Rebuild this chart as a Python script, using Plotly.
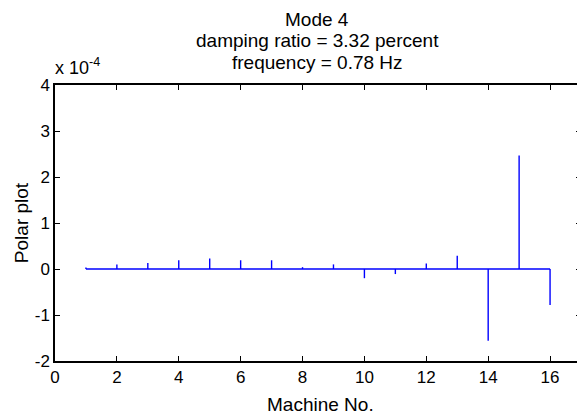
import plotly.graph_objects as go

# Data
machines = list(range(1, 17))
polar_values = [0.03e-4, 0.10e-4, 0.13e-4, 0.19e-4, 0.23e-4, 0.19e-4, 0.19e-4, 0.04e-4,
                0.10e-4, -0.20e-4, -0.11e-4, 0.12e-4, 0.29e-4, -1.56e-4, 2.47e-4, -0.78e-4]
ytick_vals = [-2e-4, -1e-4, 0, 1e-4, 2e-4, 3e-4, 4e-4]
ytick_text = ["-2", "-1", "0", "1", "2", "3", "4"]
xtick_vals = [0, 2, 4, 6, 8, 10, 12, 14, 16]
title_lines = ["Mode 4", "damping ratio = 3.32 percent", "frequency = 0.78 Hz"]

# page offset caused by default body margin
OFF = 8
PAGE_W, PAGE_H = 585, 416
W, H = PAGE_W - OFF, PAGE_H - OFF
# plot area in page pixels
X0, X1, Y0, Y1 = 55, 583, 85, 361
L, R, T, B = X0 - OFF, PAGE_W - X1, Y0 - OFF, PAGE_H - Y1
pw, ph = X1 - X0, Y1 - Y0

def px(x):
    return (x - X0) / pw

def py(y):
    return (Y1 - y) / ph

BLUE = "rgb(0,0,255)"
FONT = "Liberation Sans, Arial, sans-serif"

# stems
sx, sy = [], []
for m, v in zip(machines, polar_values):
    sx += [m, m, None]
    sy += [0, v, None]

fig = go.Figure()
fig.add_trace(go.Scatter(x=[machines[0], machines[-1]], y=[0, 0], mode="lines",
                         line=dict(color=BLUE, width=1.4), hoverinfo="skip", showlegend=False))
fig.add_trace(go.Scatter(x=sx, y=sy, mode="lines",
                         line=dict(color=BLUE, width=1.4), showlegend=False))

axis_common = dict(showgrid=False, zeroline=False, showline=True, linecolor="black",
                   linewidth=1.5, mirror="ticks", ticks="inside", ticklen=5,
                   tickcolor="black", tickwidth=1,
                   tickfont=dict(family=FONT, size=17, color="black"))

fig.update_xaxes(range=[0, 17], tickvals=xtick_vals, **axis_common)
fig.update_yaxes(range=[-2e-4, 4e-4], tickvals=ytick_vals, ticktext=ytick_text, **axis_common)

annotations = []
for line, yc in zip(title_lines, [19.5, 40.5, 62]):
    annotations.append(dict(text=line, x=px(318), y=py(yc), xref="paper", yref="paper",
                            xanchor="center", yanchor="middle", showarrow=False,
                            font=dict(family=FONT, size=19, color="black")))
annotations.append(dict(text="x 10<sup>-4</sup>", x=px(53), y=py(67), xref="paper", yref="paper",
                        xanchor="left", yanchor="middle", showarrow=False,
                        font=dict(family=FONT, size=18, color="black")))
annotations.append(dict(text="Polar plot", x=px(21.5), y=py(222.5), xref="paper", yref="paper",
                        xanchor="center", yanchor="middle", showarrow=False, textangle=-90,
                        font=dict(family=FONT, size=19, color="black")))
annotations.append(dict(text="Machine No.", x=px(322), y=py(404), xref="paper", yref="paper",
                        xanchor="center", yanchor="middle", showarrow=False,
                        font=dict(family=FONT, size=19, color="black")))

fig.update_layout(width=W, height=H, margin=dict(l=L, r=R, t=T, b=B),
                  paper_bgcolor="white", plot_bgcolor="white",
                  annotations=annotations, showlegend=False)

fig.write_html("out.html")
